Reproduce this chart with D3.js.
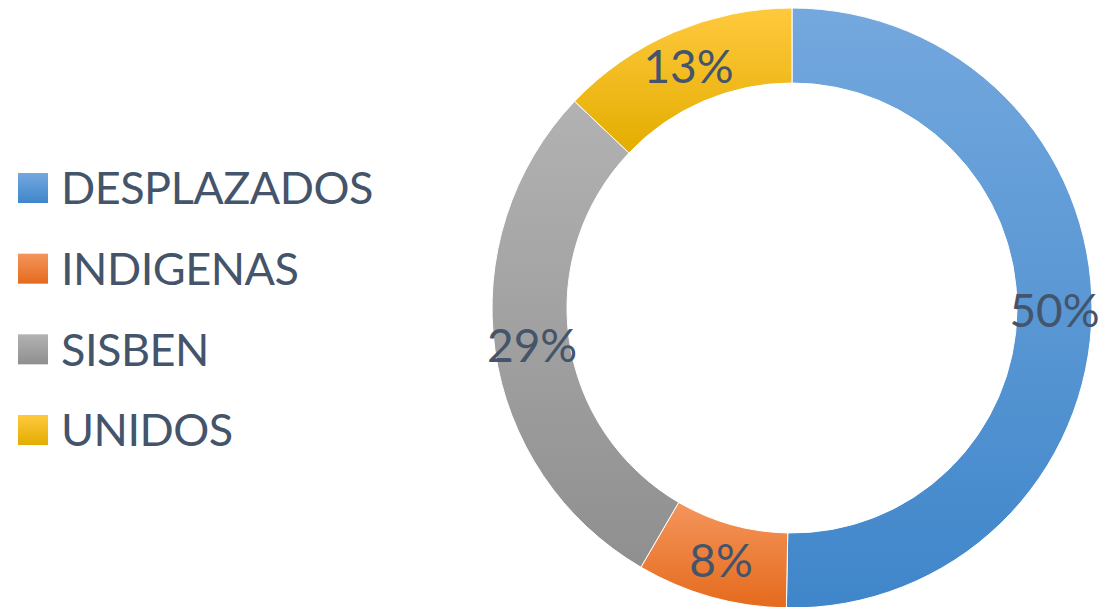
<!DOCTYPE html>
<html>
<head>
<meta charset="utf-8">
<script src="https://cdn.jsdelivr.net/npm/d3@7"></script>
<style>
  body { margin: 0; background: #fff; }
  text { font-family: Lato, "Open Sans", sans-serif; fill: #44546A; }
</style>
</head>
<body>
<svg id="chart" width="1104" height="607"></svg>
<script>
// data (share of each group)
var categories = ["DESPLAZADOS", "INDIGENAS", "SISBEN", "UNIDOS"];
var values = [50.3, 8.1, 28.7, 12.9];
var colorsTop = ["#74a8de", "#f4955c", "#b2b2b2", "#ffc93e"];
var colorsBottom = ["#3f86ca", "#e56a1c", "#8f8f8f", "#e3ad00"];

var svg = d3.select("#chart");
var width = 1104, height = 607;
var cx = 792, cy = 308;
var outerR = 300, innerR = 225;

var data = categories.map(function (c, i) {
    return { name: c, value: values[i], i: i };
});
var total = d3.sum(values);

// vertical gradients like the office chart style
var defs = svg.append("defs");
data.forEach(function (d) {
    var g = defs.append("linearGradient")
        .attr("id", "grad" + d.i)
        .attr("x1", 0).attr("y1", 0).attr("x2", 0).attr("y2", 1);
    g.append("stop").attr("offset", "0%").attr("stop-color", colorsTop[d.i]);
    g.append("stop").attr("offset", "100%").attr("stop-color", colorsBottom[d.i]);
});

var pie = d3.pie().sort(null).value(function (d) { return d.value; });
var arc = d3.arc().innerRadius(innerR).outerRadius(outerR);

var g = svg.append("g").attr("transform", "translate(" + cx + "," + cy + ")");
var arcs = pie(data);

g.selectAll("path.slice")
    .data(arcs)
    .enter()
    .append("path")
    .attr("class", "slice")
    .attr("d", arc)
    .attr("fill", function (d) { return "url(#grad" + d.data.i + ")"; })
    .attr("stroke", "#fff")
    .attr("stroke-width", 1);

g.selectAll("text.lbl")
    .data(arcs)
    .enter()
    .append("text")
    .attr("class", "lbl")
    .attr("transform", function (d) { return "translate(" + arc.centroid(d) + ")"; })
    .attr("text-anchor", "middle")
    .attr("dy", "0.36em")
    .style("font-size", "46px")
    .text(function (d) { return Math.round(d.data.value / total * 100) + "%"; });

// legend
var legend = svg.append("g").attr("transform", "translate(18,0)");
var rowY = d3.scalePoint().domain(categories).range([188, 430]);

var rows = legend.selectAll("g.row")
    .data(data)
    .enter()
    .append("g")
    .attr("class", "row")
    .attr("transform", function (d) { return "translate(0," + rowY(d.name) + ")"; });

rows.append("rect")
    .attr("x", 0).attr("y", -15)
    .attr("width", 30).attr("height", 30)
    .attr("fill", function (d) { return "url(#grad" + d.i + ")"; });

rows.append("text")
    .attr("x", 43)
    .attr("dy", "0.36em")
    .style("font-size", "45px")
    .style("letter-spacing", "-0.5px")
    .text(function (d) { return d.name; });
</script>
</body>
</html>
